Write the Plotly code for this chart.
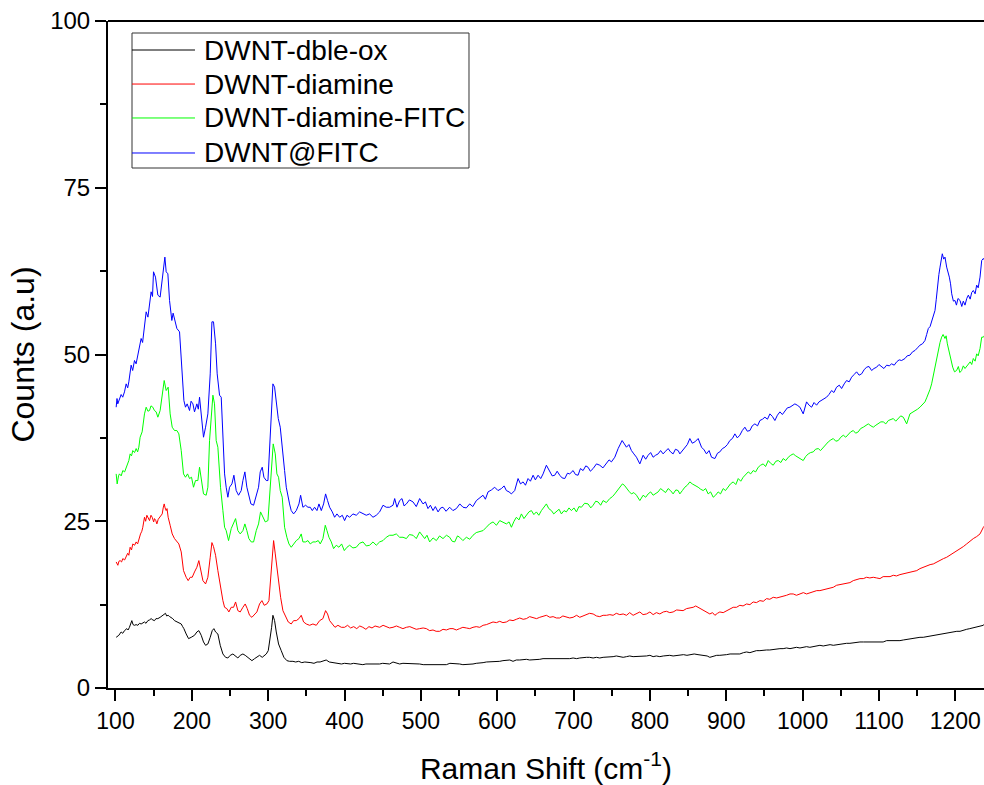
import plotly.graph_objects as go

# Raman spectra: (Raman shift cm-1, counts)
dble_ox = [
(100.9,7.6),(104.4,7.9),(107.4,8.4),(109.5,8.2),(111.8,8.6),(114.9,8.9),(116.5,8.7),(118.3,9.1),(121.4,10.1),(123,9.5),
(124.9,9.4),(127,9.5),(129.3,9.4),(131.5,9.7),(133.6,9.6),(136,9.8),(138,9.9),(140,9.7),(142.4,10.1),(144.5,10.2),
(146.7,10.4),(149,10.2),(151.1,10.1),(153,10.4),(155.5,10.4),(158.5,10.6),(162,10.9),(165.5,11.2),(167,10.8),(169,10.9),
(171,10.7),(173,10.6),(175,10.4),(177.3,10.1),(179.5,10.0),(181.7,9.9),(184,9.7),(186.1,9.6),(188,9.2),(189.6,8.9),
(192.6,8.1),(195.7,7.4),(199.2,7.6),(203.5,7.9),(206.6,8.4),(209.2,8.6),(212.3,7.9),(215.3,6.9),(218,6.4),(221,6.6),
(224.1,7.6),(226.7,8.6),(228.9,8.9),(231.1,8.4),(234.1,8.1),(237.2,6.4),(240.7,5.1),(244.2,4.6),(247.2,4.5),(250.3,4.9),
(253.8,5.1),(257.3,4.7),(260.3,4.5),(263.4,4.9),(266.9,5.1),(269.9,4.9),(273,4.6),(275.6,4.4),(278.7,4.1),(282.2,4.4),
(285.2,4.6),(288.7,4.9),(292.2,4.6),(294.8,4.9),(297.5,5.1),(300.1,5.6),(302.3,7.1),(304.5,9.1),(306.2,10.9),(308.4,10.1),
(310.6,8.4),(313.6,6.6),(317.1,5.6),(320.6,4.6),(324.5,4.1),(328,4.0),(332.4,4.0),(336,3.9),(340,4.0),(344,3.8),
(348,3.9),(352,3.9),(356,3.8),(360,3.7),(364,3.9),(368,3.9),(372,4.0),(376,4.2),(380,3.9),(384,3.8),
(388,3.7),(392,3.7),(396,3.6),(400,3.7),(404,3.6),(408,3.6),(412,3.7),(416,3.6),(420,3.6),(424,3.5),
(428,3.6),(432,3.6),(436,3.5),(440,3.6),(446,3.6),(450,3.7),(454.7,3.7),(459,3.6),(463.5,3.9),(468,3.7),
(472.2,3.6),(476.5,3.7),(481,3.7),(485.5,3.6),(489.7,3.6),(494,3.6),(498.4,3.6),(503,3.5),(507.2,3.5),(511.5,3.6),
(515.9,3.5),(520,3.6),(524.6,3.6),(529,3.5),(533.4,3.5),(538,3.7),(542.1,3.7),(546.5,3.6),(550.8,3.6),(555,3.5),
(559.6,3.5),(564,3.6),(568.3,3.6),(572.5,3.7),(577.1,3.7),(581.5,3.8),(585.8,3.9),(590,3.9),(594.5,3.9),(599,4.0),
(603.3,4.0),(607.5,4.1),(612,4.1),(616.5,4.2),(620.7,4.0),(625,4.2),(629.5,4.2),(634,4.3),(638.2,4.3),(642.5,4.2),
(647,4.2),(651.5,4.3),(655.7,4.3),(660,4.4),(664.4,4.4),(669,4.4),(673.2,4.3),(677.5,4.4),(681.9,4.4),(686,4.3),
(690.6,4.4),(695,4.4),(699.4,4.5),(704,4.4),(708.1,4.5),(712.5,4.6),(716.9,4.6),(721,4.6),(725.6,4.5),(730,4.6),
(734.3,4.5),(738.7,4.6),(743.1,4.6),(747.5,4.7),(751.8,4.7),(756,4.8),(760.5,4.7),(765,4.6),(769.3,4.7),(773.5,4.8),
(778,4.7),(782.5,4.7),(786.8,4.8),(791,4.7),(795.5,4.8),(800,4.9),(804.2,4.7),(808.5,4.8),(813,4.7),(817.5,4.8),
(821.7,4.9),(826,4.9),(830.4,4.8),(835,4.9),(839.2,4.9),(844,5.0),(848.5,4.9),(853.5,5.0),(858,5.1),(863,5.0),
(867.5,4.9),(871,4.8),(875,4.8),(878.5,4.6),(883,4.8),(887.5,4.9),(891.6,4.9),(896,4.9),(900.4,5.0),(905,5.1),
(909.1,5.1),(913.5,5.1),(917.8,5.1),(922.5,5.3),(926.6,5.4),(931,5.3),(935.5,5.5),(939.5,5.6),(944.1,5.6),(948.5,5.7),
(952.8,5.7),(957,5.7),(961.5,5.8),(966,5.9),(970.3,5.9),(974.5,5.9),(979,6.0),(983.5,5.9),(987.7,6.0),(992,6.1),
(996.5,6.0),(1001,6.1),(1005.2,6.2),(1009.5,6.1),(1014,6.2),(1018.5,6.3),(1022.7,6.4),(1027,6.3),(1031.4,6.4),(1036,6.5),
(1040.2,6.4),(1044.5,6.5),(1048.9,6.6),(1053,6.6),(1057.6,6.7),(1062,6.7),(1066.4,6.8),(1071,6.8),(1075.1,6.9),(1079.5,6.9),
(1083.8,6.9),(1088,7.0),(1092.6,7.0),(1097,7.0),(1101.3,7.0),(1105.5,6.9),(1110.1,7.1),(1114.5,7.1),(1118.8,7.0),(1123,7.1),
(1127.5,7.1),(1132,7.2),(1136.3,7.3),(1140.5,7.3),(1145,7.4),(1149.5,7.5),(1153.7,7.6),(1158,7.6),(1162.5,7.7),(1167,7.8),
(1171.2,7.9),(1175.5,7.9),(1180,8.0),(1184.5,8.1),(1188.7,8.2),(1193,8.3),(1197.4,8.4),(1202,8.5),(1206.2,8.5),(1210.5,8.7),
(1214.9,8.8),(1219,8.9),(1223.6,9.0),(1228,9.1),(1232.4,9.2),(1236.8,9.4),(1239,9.7),
]

diamine = [
(100.9,18.9),(103.1,18.4),(104.5,19.0),(106.1,19.1),(108,18.9),(109.6,19.4),(112,19.2),(114,19.6),(116,20.2),(117.5,19.9),
(119.2,21.1),(121,20.7),(122.7,21.6),(125,21.4),(127.1,21.9),(129,21.6),(130.6,22.4),(132.8,23.1),(134.5,23.5),(135.8,24.1),
(138,25.6),(139.5,25.0),(141.1,25.9),(143,25.3),(144.6,25.1),(146.5,25.9),(148.1,25.6),(150,24.9),(151.1,25.4),(152.8,25.1),
(154.2,24.6),(156,25.3),(157.7,25.6),(159.5,25.9),(161.2,26.1),(162.5,27.0),(163.8,27.6),(165,27.0),(166.4,26.6),(167.5,26.9),
(169,25.6),(171.6,24.4),(174.3,23.1),(177.3,22.4),(180.4,21.9),(183,21.6),(186.1,20.4),(189.1,17.6),(192.6,16.6),(195.2,16.1),
(197.9,16.6),(200.5,16.6),(203.5,17.4),(206.6,18.1),(209.2,19.1),(211.4,17.6),(214.5,16.1),(218,15.6),(221,16.6),(224.1,19.6),
(226.3,21.8),(228.4,21.2),(231.1,19.9),(234.1,17.6),(237.6,15.1),(240.7,13.1),(242.9,12.1),(245.9,11.9),(248.5,11.4),(251.6,12.1),
(254.7,12.1),(257.3,12.9),(260.3,11.6),(263.4,11.4),(266.9,12.1),(269.9,12.6),(272.6,11.9),(275.6,10.9),(278.7,10.6),(282.2,11.1),
(285.2,11.4),(288.7,12.6),(291.8,13.1),(294.8,12.4),(298.3,12.6),(301,13.1),(303.6,17.1),(305.3,19.6),(307.1,22.1),(309.3,20.1),
(311.4,18.1),(313.6,15.6),(316.3,13.6),(319.3,11.6),(322.8,10.6),(326.3,9.9),(330.2,9.6),(333.3,10.1),(336.8,10.1),(340.3,10.4),
(343.3,10.9),(346.4,9.9),(349.9,9.6),(354.3,9.4),(358.6,9.6),(363,9.4),(367.4,10.1),(371.7,10.4),(375.2,11.6),(377.8,11.1),
(380.5,10.1),(384,9.6),(387.5,9.1),(391.4,9.4),(395.8,9.1),(400.1,9.1),(404,9.4),(408,9.0),(412,9.2),(416,8.9),
(420,9.3),(424,9.1),(428,8.8),(432,9.2),(436,9.0),(440,9.3),(446,9.1),(450.5,9.4),(454.7,9.2),(459,9.0),
(463.5,9.1),(468,9.3),(472.2,9.1),(476.5,8.9),(481,9.1),(485.5,9.2),(489.7,9.0),(494,8.8),(498.4,8.9),(503,9.0),
(507.2,8.9),(511.5,8.6),(515.9,8.7),(520,8.5),(524.6,8.5),(529,8.8),(533.4,8.7),(538,8.9),(542.1,8.9),(546.5,8.7),
(550.8,8.9),(555,9.1),(559.6,9.0),(564,8.9),(568.3,9.1),(572.5,9.2),(577.1,9.1),(581.5,9.4),(585.8,9.5),(590,9.7),
(594.5,9.9),(599,9.8),(603.3,10.0),(607.5,9.8),(612,9.9),(616.5,10.2),(620.7,10.1),(625,10.3),(629.5,10.5),(634,10.3),
(638.2,10.4),(642.5,10.7),(647,10.6),(651.5,10.4),(655.7,10.6),(660,10.8),(664.4,10.9),(669,10.6),(673.2,10.7),(677.5,10.5),
(681.9,10.5),(686,10.8),(690.6,10.6),(695,10.5),(699.4,10.6),(704,10.9),(708.1,10.6),(712.5,10.8),(716.9,10.9),(721,11.2),
(725.6,11.1),(730,10.8),(734.3,10.7),(738.7,10.9),(743.1,10.9),(747.5,11.0),(751.8,10.9),(756,11.2),(760.5,11.0),(765,11.1),
(769.3,10.9),(773.5,11.3),(778,10.9),(782.5,11.2),(786.8,11.4),(791,11.0),(795.5,11.1),(800,11.4),(804.2,11.0),(808.5,11.3),
(813,11.1),(817.5,11.4),(821.7,11.5),(826,11.3),(830.4,11.4),(835,11.7),(839.2,11.6),(843.5,11.6),(847.9,11.9),(852.3,12.0),
(856.7,12.1),(860,12.3),(863.2,12.1),(866.5,11.8),(869.8,11.6),(874,11.3),(878.5,11.1),(882,11.3),(885.1,10.9),(888.5,11.2),
(891.6,11.4),(896,11.3),(900.4,11.6),(904.5,11.9),(909.1,12.1),(913.5,12.1),(917.8,12.4),(922,12.3),(926.6,12.6),(931,12.5),
(935.3,12.9),(939.5,12.8),(944.1,13.1),(948.5,13.0),(952.8,13.4),(957,13.3),(961.5,13.6),(966,13.5),(970.3,13.6),(974.5,13.8),
(979,13.9),(983.5,14.1),(987.7,14.1),(992,13.9),(996.5,14.1),(1001,14.3),(1005.2,14.1),(1009.5,14.3),(1014,14.4),(1018.5,14.6),
(1022.7,14.6),(1027,14.7),(1031.4,14.9),(1036,15.0),(1040.2,15.1),(1044.5,15.4),(1048.9,15.5),(1053,15.6),(1057.6,15.7),(1062,15.8),
(1066.4,16.1),(1071,16.3),(1075.1,16.4),(1079.5,16.4),(1083.8,16.6),(1088,16.5),(1092.6,16.6),(1097,16.5),(1101.3,16.4),(1105.5,16.7),
(1110.1,16.7),(1114.5,16.7),(1118.8,16.9),(1123,16.8),(1127.5,17.0),(1132,17.1),(1136.3,17.2),(1140.5,17.3),(1145,17.4),(1149.5,17.6),
(1153.7,17.9),(1158,18.1),(1162.5,18.4),(1167,18.5),(1171.2,18.6),(1175.5,18.9),(1180,19.1),(1184.5,19.4),(1188.7,19.6),(1193,19.9),
(1197.4,20.2),(1202,20.5),(1206.2,20.9),(1210.5,21.2),(1214.9,21.6),(1219,22.0),(1223.6,22.4),(1228,22.7),(1232.4,23.1),(1236.8,24.1),
(1239,24.4),
]

diamine_fitc = [
(100.9,32.1),(102.2,30.6),(104,31.8),(105.2,32.1),(107.5,31.8),(109.6,32.6),(112,32.4),(114,33.1),(116,33.6),(117.5,34.1),
(119.2,35.1),(121,34.8),(122.7,35.6),(125,35.3),(127.1,35.9),(129,35.4),(130.6,36.1),(132.3,37.6),(134.9,38.4),(136.5,39.8),
(138,41.1),(140.2,42.1),(142.5,41.5),(144.6,41.6),(146.5,42.3),(148.9,42.1),(151,41.6),(153.3,41.4),(155.5,40.6),(158.5,41.6),
(161.2,43.6),(163.8,46.1),(166.4,44.6),(169,45.1),(171.6,41.1),(174.3,39.1),(177.3,38.6),(180.4,38.6),(183,38.1),(186.1,35.6),
(189.1,32.1),(191.7,31.6),(194.4,32.1),(197,31.4),(199.6,31.6),(202.2,30.1),(204.8,31.1),(207.9,31.1),(210.1,33.1),(212.3,31.6),
(215.3,29.1),(218.8,28.9),(221,30.1),(223.2,37.1),(225.4,41.1),(227.6,43.9),(229.7,42.6),(231.9,37.1),(234.1,36.1),(237.6,30.1),
(240.7,26.6),(242.9,24.1),(245,23.6),(248.1,22.1),(251.6,23.9),(254.7,24.6),(257.3,25.4),(260.3,23.6),(263.4,23.1),(266.9,23.6),
(269.5,24.6),(272.1,23.6),(274.7,22.4),(277.8,21.9),(280.9,21.9),(284.4,23.6),(287.4,24.6),(290,26.4),(293.1,25.6),(296.2,24.9),
(299.7,25.1),(302.3,29.6),(304.5,33.1),(306.6,36.6),(309.3,35.1),(311.4,32.1),(313.6,31.6),(315.8,29.6),(318.4,28.6),(321.5,24.1),
(324.5,22.6),(327.2,21.6),(330.2,21.1),(333.3,21.6),(336.8,22.1),(340.3,22.4),(343.3,23.1),(345.5,21.9),(349,21.9),(352.1,22.1),
(355.1,21.6),(358.6,21.9),(362.1,21.9),(365.6,22.1),(368.2,21.6),(371.7,22.4),(374.8,24.4),(377,23.6),(379.6,22.6),(382.7,21.9),
(385.7,20.9),(389.2,21.4),(392.7,21.1),(396.2,21.6),(399.7,20.6),(403.2,21.1),(406.7,21.4),(411,21.0),(415.4,21.1),(419.8,21.7),
(424.2,21.9),(428.5,21.3),(432.9,21.4),(437.3,21.9),(441.6,21.4),(446,21.9),(450.4,22.1),(454.7,22.6),(459.1,22.9),(463.5,22.9),
(467.8,23.1),(472.2,22.6),(476.6,22.6),(481,22.4),(485,23.0),(489.7,22.9),(494,22.4),(498.4,23.4),(502,22.8),(505,22.4),
(508,22.9),(511.5,21.9),(516,22.5),(520.3,22.1),(524.5,22.8),(529,22.4),(533.5,22.9),(537.7,22.6),(541,22.0),(544.3,21.9),
(548,22.8),(550.8,22.6),(555,22.1),(559.6,22.6),(564,22.3),(568.3,22.9),(572.5,23.3),(577.1,23.4),(581.5,23.6),(585.8,24.1),
(590,24.6),(594.5,24.9),(599,24.4),(603.3,25.1),(607.5,24.8),(612,24.6),(615.5,24.9),(618.6,24.1),(622,25.0),(625.1,25.6),
(628.5,25.2),(631.7,26.1),(635,25.4),(638.2,25.9),(641.5,26.4),(644.8,26.6),(648,26.0),(651.3,26.4),(654.5,25.9),(657.9,26.6),
(661,27.0),(664.4,27.6),(667.5,26.9),(671,26.6),(674,26.1),(677.5,26.4),(681,26.8),(684.1,26.1),(687.5,26.6),(690.6,26.4),
(694,27.0),(697.2,26.6),(700.5,27.0),(703.8,26.4),(707,27.2),(710.3,27.1),(714.5,27.7),(719,27.6),(722.5,27.0),(725.6,27.4),
(729,28.0),(732.1,27.9),(735.5,27.4),(738.7,28.1),(743,27.8),(747.4,28.4),(751,28.7),(754,29.1),(756.5,29.5),(758.4,29.9),
(761,30.2),(764,30.6),(766.5,30.4),(769.3,29.9),(772.5,29.5),(775.8,29.1),(779,29.3),(782.4,28.9),(786.8,28.1),(791.1,28.9),
(794.5,28.6),(797.7,29.1),(801,29.4),(804.2,28.9),(807.5,29.2),(810.8,29.4),(814,29.9),(817.3,29.6),(820.5,29.3),(823.9,29.9),
(827,29.6),(830.4,29.1),(834,29.7),(837,29.6),(839.2,29.1),(842.5,29.6),(845.7,30.1),(849,30.4),(852.3,30.9),(855.5,30.6),
(858.9,30.4),(863.2,30.1),(866.5,29.8),(869.8,29.6),(873,29.9),(876.3,29.1),(879.5,29.4),(882.9,28.6),(886,28.9),(889.4,29.4),
(892.5,29.1),(896,29.9),(899,29.6),(902.5,30.1),(905.5,30.6),(909.1,30.9),(912.5,30.5),(915.7,31.4),(919,31.0),(922.2,31.6),
(925.5,32.0),(928.8,32.4),(932,32.1),(935.3,32.6),(938.5,32.4),(941.9,33.1),(945,33.4),(948.4,33.6),(951.5,33.2),(955,34.1),
(958,33.7),(961.5,33.4),(965,34.0),(968.1,34.1),(971.5,33.8),(974.6,34.4),(978,34.1),(981.2,34.6),(984.5,34.9),(987.7,35.1),
(991,34.8),(994.3,34.6),(997.5,34.3),(1000.8,34.1),(1004,34.7),(1007.4,35.1),(1010.5,35.3),(1014,35.4),(1017,35.8),(1020.5,35.9),
(1023.5,35.6),(1027.1,36.1),(1030.5,36.5),(1033.6,36.9),(1037,37.2),(1040.2,37.4),(1043.5,37.0),(1046.7,37.1),(1050,37.6),(1053.3,37.9),
(1056.5,37.6),(1059.8,38.1),(1063,38.4),(1066.4,38.6),(1069.5,38.2),(1072.9,38.4),(1076,38.9),(1079.5,39.1),(1083,39.4),(1086,39.6),
(1089.5,39.3),(1092.6,39.1),(1096,39.4),(1099.1,39.6),(1102.5,39.9),(1105.7,39.9),(1109,39.6),(1112.3,40.1),(1115.5,40.3),(1118.8,40.4),
(1122,40.0),(1125.4,40.4),(1128.5,40.8),(1131.9,40.6),(1136.3,39.6),(1140.6,41.1),(1144,41.3),(1147.2,41.6),(1150.5,41.8),(1153.7,42.1),
(1157,42.5),(1160.3,42.9),(1162.5,43.5),(1164.7,44.1),(1167,44.8),(1169,45.6),(1171,46.8),(1173.4,48.1),(1175.5,49.5),(1177.8,50.6),
(1180,51.8),(1182.1,52.6),(1184,53.0),(1186.5,52.4),(1188,52.8),(1189.6,51.6),(1191.5,50.5),(1193.1,49.6),(1194.8,48.8),(1196.6,48.1),
(1199,47.4),(1201.7,47.6),(1204,48.2),(1206,47.3),(1208.3,47.6),(1210.5,48.3),(1212.7,47.9),(1215,48.2),(1217.1,48.6),(1219.5,48.9),
(1221.5,48.5),(1223.6,49.4),(1226,49.0),(1228,50.1),(1230,49.8),(1232.4,50.9),(1234.6,52.6),(1236.8,52.6),(1239,53.0),
]

at_fitc = [
(100.9,42.1),(102,43.4),(103,42.6),(105,43.2),(107.4,44.0),(109.5,43.6),(111.8,44.4),(114,45.6),(116,45.0),(117.5,45.9),
(120.5,48.4),(122.5,47.6),(124.9,49.1),(127,48.6),(129.3,49.9),(131.5,51.1),(133.6,52.4),(135.5,51.8),(138,54.1),(140.2,56.4),
(142.5,55.6),(144.6,57.6),(146.7,59.4),(148.5,58.7),(149.8,62.4),(152.4,61.6),(155.5,58.9),(158.5,58.6),(161.2,61.6),(162.9,62.6),
(164.7,64.6),(166.4,62.4),(168.6,62.1),(170.8,58.1),(173.8,55.1),(175.5,56.2),(177.3,55.4),(179,54.2),(180.4,53.9),(183.9,53.4),
(186.1,49.6),(189.6,43.1),(191.7,42.1),(193.9,42.6),(197,41.6),(199,43.0),(201.4,42.6),(203.5,41.4),(206.6,42.6),(208.5,41.8),
(210.1,43.6),(212.3,41.1),(215.3,37.6),(218,39.1),(221,41.1),(224.1,47.1),(226.3,54.9),(228.4,54.9),(231.1,51.6),(233.2,47.1),
(236.3,43.9),(238.5,43.6),(240.7,37.1),(242.9,32.1),(245,30.1),(247.2,28.6),(249.4,30.1),(252.5,30.6),(255.1,31.9),(258.1,29.6),
(261.2,28.9),(264.7,29.6),(266.9,31.1),(269.5,32.4),(272.1,30.1),(274.7,28.6),(277.4,27.6),(280.9,27.4),(284.4,29.1),(287.4,30.1),
(289.6,32.4),(292.2,33.1),(294.4,31.6),(297.5,31.1),(299.7,31.1),(302.3,37.1),(304,42.1),(306.2,45.6),(308.4,45.1),(310.6,43.1),
(313.2,40.4),(315.8,39.1),(318.4,35.6),(321.5,32.6),(323.7,30.1),(325.9,28.6),(328,27.6),(330.2,26.6),(333.3,26.1),(336.8,26.6),
(340.3,27.6),(342.5,28.9),(345.5,27.1),(349,27.4),(352.1,27.1),(355.1,27.1),(357.8,26.6),(360.8,27.1),(363.9,26.6),(366.5,27.6),
(369.6,26.6),(372.6,27.6),(375.2,29.1),(377.8,28.1),(380.5,27.1),(384,26.4),(387,25.6),(390.1,26.1),(393.6,25.6),(397.1,25.9),
(400.1,25.1),(403.2,25.9),(406.7,25.6),(411,26.1),(415.4,25.9),(419.8,26.4),(424.2,26.1),(428.5,25.9),(432.9,26.1),(437.3,25.6),
(441.6,25.9),(446,26.4),(450.4,27.4),(454.7,27.1),(459.1,27.1),(463.5,27.4),(465.7,28.4),(468.7,27.1),(472.2,28.1),(475.3,28.4),
(478,27.3),(481,27.6),(485,28.2),(489.7,27.9),(494,27.2),(498.4,28.4),(502.8,27.6),(506,27.9),(509.3,26.9),(512.5,27.4),
(515.9,26.6),(519,27.2),(522.5,26.4),(526,27.0),(529,27.1),(533,26.5),(537.7,27.1),(542,26.6),(546.5,26.9),(551,27.6),
(555.2,27.1),(559.5,27.0),(564,27.6),(568,27.2),(572.7,28.1),(577,28.5),(581.4,28.9),(584.5,28.3),(588,29.4),(592.5,29.7),
(596.7,30.1),(601,29.6),(605.5,29.9),(609,30.3),(612,29.6),(615.5,29.4),(618.6,29.1),(622.9,29.6),(627.3,31.4),(630.5,30.6),
(633.9,30.9),(637,30.4),(640.4,31.4),(643.5,31.0),(647,31.9),(650,31.2),(653.5,31.9),(657,31.4),(660.1,32.1),(664.4,33.4),
(668.8,32.4),(672,31.8),(675.4,31.9),(678.5,32.5),(681.9,31.9),(685,31.5),(688.5,31.4),(692,32.2),(695,32.1),(699.4,32.6),
(702.5,32.0),(705.9,31.9),(709,32.9),(712.5,32.6),(716,33.3),(719,33.1),(722,32.5),(725.6,32.9),(730,33.6),(734.3,33.4),
(738.5,33.0),(743.1,33.6),(746.5,34.2),(749.6,33.9),(754,34.6),(758.4,35.9),(761,36.4),(763.6,37.1),(766.5,36.6),(769.3,36.1),
(772.5,36.5),(775.8,35.6),(779,35.1),(782.4,34.6),(786.8,33.6),(791.1,34.9),(794.5,34.3),(797.7,34.9),(801,35.3),(804.2,34.6),
(807.5,34.9),(810.8,35.1),(814,35.6),(817.3,35.1),(820.5,35.5),(823.9,35.9),(827,35.4),(830.4,35.1),(833.5,35.8),(837,35.6),
(839.2,35.1),(842.5,35.6),(845.7,36.1),(849,36.5),(852.3,37.4),(855.5,36.7),(858.9,36.9),(863.2,37.4),(867.6,36.1),(871,35.7),
(874.1,35.1),(877.5,35.6),(880.7,34.6),(885.1,34.4),(888.5,35.2),(891.6,35.4),(895,35.9),(898.2,36.1),(901.5,36.5),(904.7,37.1),
(908,37.4),(911.3,38.1),(914.5,37.5),(917.8,37.9),(921,38.6),(924.4,39.1),(927.5,38.5),(931,38.6),(934,39.3),(937.5,39.6),
(941,39.3),(944.1,40.1),(947.5,40.3),(950.6,40.6),(954,40.3),(957.2,41.1),(960.5,40.7),(963.7,40.1),(967,40.9),(970.3,41.4),
(973.5,41.0),(976.8,41.6),(980,42.0),(983.4,42.1),(986.5,42.4),(989.9,42.6),(993,42.4),(996.5,42.1),(1000.8,41.1),(1005.2,42.9),
(1008.5,42.4),(1011.8,42.1),(1015,42.8),(1018.3,42.4),(1021.5,42.9),(1024.9,43.1),(1028,43.4),(1031.4,43.6),(1034.5,44.0),(1038,44.6),
(1041,44.3),(1044.5,45.1),(1048,45.4),(1051.1,44.9),(1054.5,45.6),(1057.6,46.1),(1061,45.9),(1064.2,46.6),(1067.5,47.0),(1070.7,47.4),
(1074,46.9),(1077.3,47.1),(1080.5,47.7),(1083.8,48.1),(1087,48.2),(1090.4,47.6),(1093.5,47.9),(1097,48.1),(1100,48.5),(1103.5,48.1),
(1106.5,47.9),(1110.1,48.4),(1113.5,48.3),(1116.6,48.6),(1120,48.4),(1123.2,48.9),(1126.5,49.2),(1129.7,49.1),(1134.1,49.4),(1137,49.8),
(1140.6,49.9),(1144,50.4),(1147.2,50.6),(1150.5,51.0),(1153.7,51.4),(1157,51.6),(1160.3,52.1),(1162.5,53.0),(1164.7,53.9),(1167,54.2),
(1169,54.9),(1171,55.6),(1173.4,56.6),(1175,58.2),(1176.5,60.1),(1178.5,62.0),(1180,63.1),(1181.5,64.3),(1183,65.1),(1184.8,64.3),
(1186.5,64.6),(1188.7,63.1),(1190.5,62.5),(1192.2,61.6),(1193.8,60.6),(1195.3,59.1),(1197.5,58.0),(1199.6,58.1),(1201.5,57.4),(1203.5,58.4),
(1206.2,58.1),(1208.5,57.2),(1210.5,58.0),(1212.7,57.4),(1215,58.4),(1217.1,58.9),(1219.5,58.3),(1221.5,59.3),(1223.6,59.6),(1226,59.1),
(1228,60.4),(1230,60.0),(1232.4,61.6),(1234.6,64.1),(1236.8,64.4),(1239,64.0),
]

series_names = ["DWNT-dble-ox", "DWNT-diamine", "DWNT-diamine-FITC", "DWNT@FITC"]
series_data = [dble_ox, diamine, diamine_fitc, at_fitc]
series_colors = ["#000000", "#FF0000", "#00FF00", "#0000FF"]

x_tick_values = [100, 200, 300, 400, 500, 600, 700, 800, 900, 1000, 1100, 1200]
y_tick_values = [0, 25, 50, 75, 100]

FONT = "Liberation Sans, Arial, sans-serif"

fig = go.Figure()
for name, data, color in zip(series_names, series_data, series_colors):
    fig.add_trace(go.Scatter(
        x=[p[0] for p in data], y=[p[1] for p in data],
        mode="lines", name=name,
        line=dict(color=color, width=1),
        showlegend=False,
    ))

# Boxed legend drawn in paper coordinates (line samples + labels)
legend_rows_y = [0.9565, 0.9055, 0.8546, 0.8021]
shapes = [
    dict(type="line", xref="paper", yref="paper", x0=0, x1=1, y0=1, y1=1,
         line=dict(color="black", width=2)),
    dict(type="rect", xref="paper", yref="paper", x0=0.0274, x1=0.4121, y0=0.7796, y1=0.982,
         line=dict(color="#333333", width=1), fillcolor="rgba(0,0,0,0)"),
]
annotations = []
for name, color, ly in zip(series_names, series_colors, legend_rows_y):
    shapes.append(dict(type="line", xref="paper", yref="paper", x0=0.0274, x1=0.0993, y0=ly, y1=ly,
                       line=dict(color=color, width=1)))
    annotations.append(dict(xref="paper", yref="paper", x=0.1075, y=ly, xanchor="left", yanchor="middle",
                            text=name, showarrow=False,
                            font=dict(size=28, family=FONT, color="black")))

fig.update_layout(
    width=984, height=785,
    margin=dict(l=108, r=0, t=21, b=97),
    paper_bgcolor="white", plot_bgcolor="white",
    font=dict(family=FONT, color="black"),
    showlegend=False,
    shapes=shapes,
    annotations=annotations,
)

fig.update_xaxes(
    range=[90.2, 1237.6],
    tickmode="array", tickvals=x_tick_values,
    ticks="outside", ticklen=11, tickwidth=2, tickcolor="black",
    minor=dict(ticks="outside", ticklen=6, tickwidth=2, dtick=50, tick0=0, tickcolor="black"),
    showline=True, linewidth=2, linecolor="black",
    showgrid=False, zeroline=False,
    tickfont=dict(size=23, family=FONT, color="black"),
    title=dict(text="Raman Shift (cm<sup>-1</sup>)", font=dict(size=30, family=FONT, color="black"), standoff=28),
)
fig.update_yaxes(
    range=[0, 100],
    tickmode="array", tickvals=y_tick_values,
    ticks="outside", ticklen=11, tickwidth=2, tickcolor="black",
    minor=dict(ticks="outside", ticklen=6, tickwidth=2, dtick=12.5, tick0=0, tickcolor="black"),
    showline=True, linewidth=2, linecolor="black",
    showgrid=False, zeroline=False,
    tickfont=dict(size=24, family=FONT, color="black"),
    title=dict(text="Counts (a.u)", font=dict(size=32, family=FONT, color="black"), standoff=6),
)

fig.write_html("out.html", config={"displayModeBar": False},
               post_script="document.body.style.margin='0px';document.body.style.overflow='hidden';")
